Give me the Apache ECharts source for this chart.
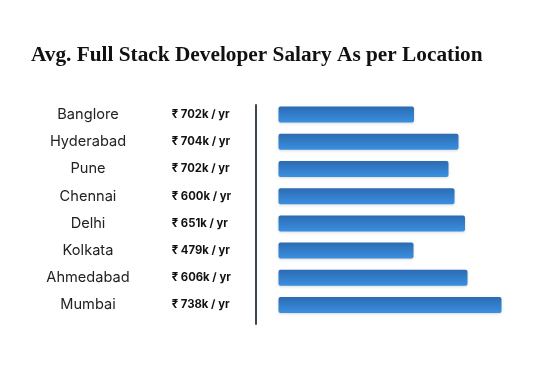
<!DOCTYPE html>
<html>
<head>
<meta charset="utf-8">
<script src="https://cdn.jsdelivr.net/npm/echarts@6/dist/echarts.min.js"></script>
<style>html,body{margin:0;padding:0;background:#fff;}#c{width:533px;height:369px;}</style>
</head>
<body>
<div id="c"></div>
<script>
const cities = ['Banglore','Hyderabad','Pune','Chennai','Delhi','Kolkata','Ahmedabad','Mumbai'];
const salaryLabels = ['₹ 702k / yr','₹ 704k / yr','₹ 702k / yr','₹ 600k / yr','₹ 651k / yr','₹ 479k / yr','₹ 606k / yr','₹ 738k / yr'];
const barValues = [135.5, 180, 170, 176, 186.5, 135, 189, 223];

const chart = echarts.init(document.getElementById('c'), null, {renderer:'canvas'});
chart.setOption({
  animation:false,
  title:{
    text:'Avg. Full Stack Developer Salary As per Location',
    left:26, top:40,
    textStyle:{fontFamily:'Liberation Serif', fontWeight:'bold', fontSize:21.3, color:'#111'}
  },
  grid:[
    {left:278.5, top:101, width:250, height:217.6},
    {left:256, top:105, width:10, height:219}
  ],
  xAxis:[
    {type:'value', min:0, max:250, show:false, gridIndex:0},
    {type:'value', min:0, max:1, show:false, gridIndex:1}
  ],
  yAxis:[
    {type:'category', data:cities, inverse:true, position:'left', gridIndex:1,
     axisLine:{show:true, onZero:false, lineStyle:{color:'#3a4750', width:2}},
     axisTick:{show:false},
     axisLabel:{show:false}},
    {type:'category', data:cities, inverse:true, position:'left', gridIndex:0,
     axisLine:{show:false, onZero:false}, axisTick:{show:false},
     axisLabel:{margin:190.5, align:'center', fontFamily:'Inter', fontSize:14.6, color:'#222', padding:[1,0,0,0]}},
    {type:'category', data:salaryLabels, inverse:true, position:'left', gridIndex:0,
     axisLine:{show:false, onZero:false}, axisTick:{show:false},
     axisLabel:{margin:106.8, align:'left', fontFamily:'Inter', fontWeight:'bold', fontSize:11.3, color:'#111', padding:[0,0,1,0]}}
  ],
  series:[{
    type:'bar', data:barValues, barWidth:16, xAxisIndex:0, yAxisIndex:1,
    itemStyle:{
      borderRadius:2,
      color:new echarts.graphic.LinearGradient(0,0,0,1,[{offset:0,color:'#2c6bb3'},{offset:1,color:'#3a8fe0'}]),
      shadowColor:'rgba(0,0,0,0.15)', shadowBlur:3, shadowOffsetY:1
    }
  }]
});
</script>
</body>
</html>
